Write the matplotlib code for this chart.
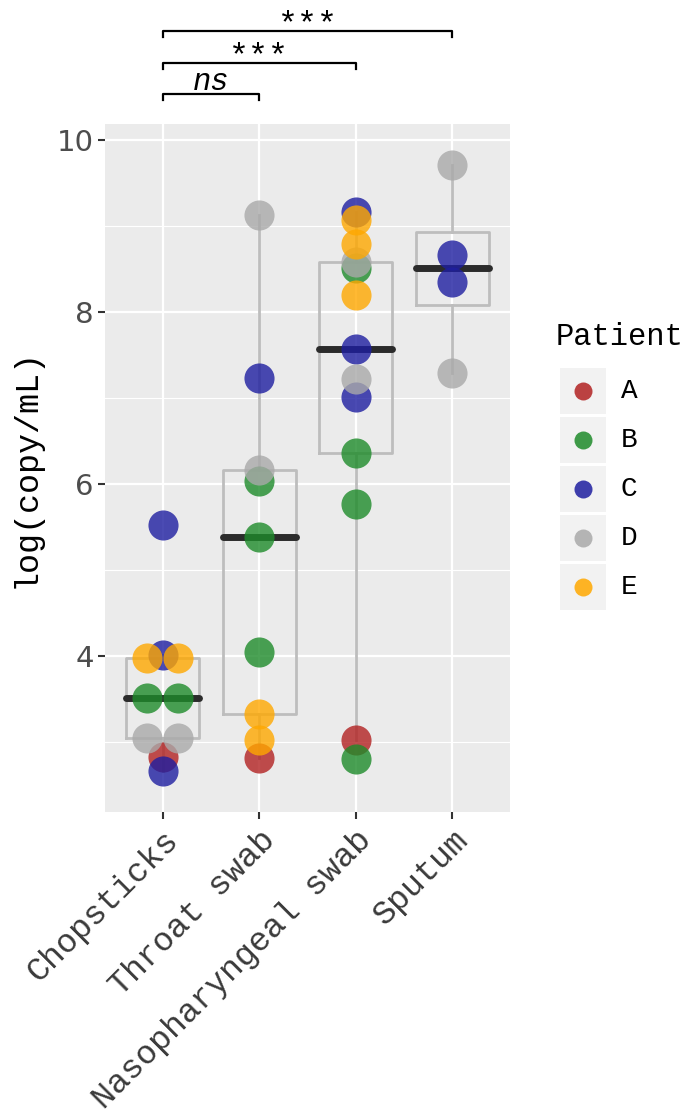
import matplotlib.pyplot as plt
from matplotlib.patches import Rectangle
import numpy as np

# sample types and measured values (log copy/mL) with patient per point
samples = ["Chopsticks", "Throat swab", "Nasopharyngeal swab", "Sputum"]

chop_vals = [5.53, 3.98, 4.01, 3.98, 3.51, 3.51, 3.05, 3.05, 2.83, 2.67]
chop_pat = ["C", "E", "C", "E", "B", "B", "D", "D", "A", "C"]

throat_vals = [9.13, 7.24, 6.17, 6.04, 5.39, 4.05, 3.33, 3.03, 2.82]
throat_pat = ["D", "C", "D", "B", "B", "B", "E", "E", "A"]

naso_vals = [9.17, 9.07, 8.79, 8.59, 8.52, 8.20, 7.57, 7.22, 7.02, 6.36, 5.77, 3.03, 2.81]
naso_pat = ["C", "E", "E", "D", "B", "E", "C", "D", "C", "B", "B", "A", "B"]

sputum_vals = [9.71, 8.67, 8.35, 7.29]
sputum_pat = ["D", "C", "C", "D"]

patients = ["A", "B", "C", "D", "E"]
pat_colors = {"A": "#B22222", "B": "#1E8B2A", "C": "#1E1EA0", "D": "#A9A9A9", "E": "#FFA800"}

comparisons = [(1, 2, "ns"), (1, 3, "***"), (1, 4, "***")]

all_vals = [chop_vals, throat_vals, naso_vals, sputum_vals]
all_pats = [chop_pat, throat_pat, naso_pat, sputum_pat]

mono = "Liberation Mono"

fig = plt.figure(figsize=(6.89, 11.16), dpi=100)
ax = fig.add_axes([105 / 689, 1 - 812 / 1116, 405 / 689, 688 / 1116])
ax.set_facecolor("#EBEBEB")
for s in ax.spines.values():
    s.set_visible(False)

# boxplots (outliers hidden, points drawn on top)
ax.boxplot(all_vals, positions=[1, 2, 3, 4], widths=0.76, showfliers=False,
           showcaps=False, patch_artist=False,
           boxprops=dict(color="#BDBDBD", linewidth=2),
           whiskerprops=dict(color="#BDBDBD", linewidth=2),
           medianprops=dict(color="#2B2B2B", linewidth=5, solid_capstyle="round"),
           zorder=2)

# points, tied values spread sideways
spacing = 0.32
for i, (vals, pats) in enumerate(zip(all_vals, all_pats)):
    vals = np.array(vals)
    xs = np.zeros(len(vals))
    for v in np.unique(vals):
        idx = np.where(vals == v)[0]
        k = len(idx)
        xs[idx] = (np.arange(k) - (k - 1) / 2) * spacing
    for p in patients:
        sel = [j for j, pp in enumerate(pats) if pp == p]
        if sel:
            ax.scatter(i + 1 + xs[sel], vals[sel], s=470, color=pat_colors[p],
                       alpha=0.8, linewidths=0, zorder=3)

ax.set_xlim(0.4, 4.6)
ax.set_ylim(2.19, 10.19)
ax.set_yticks([4, 6, 8, 10])
ax.set_yticks([3, 5, 7, 9], minor=True)
ax.set_xticks([1, 2, 3, 4])
ax.set_xticklabels(samples, rotation=45, ha="right", va="top",
                   rotation_mode="anchor", fontsize=24, family=mono, color="#3A3A3A")
ax.tick_params(axis="y", which="major", labelsize=21, labelcolor="#4D4D4D",
               length=5, width=1.5, color="#333333", pad=3)
ax.tick_params(axis="y", which="minor", length=0)
ax.tick_params(axis="x", length=5, width=1.5, color="#333333", pad=4)
ax.grid(which="major", color="white", linewidth=1.6, zorder=0)
ax.grid(which="minor", axis="y", color="white", linewidth=0.8, zorder=0)
ax.set_axisbelow(True)
ax.set_ylabel("log(copy/mL)", fontsize=24, family=mono, color="black", labelpad=11)

# significance brackets above the panel
base, step, tip = 10.535, 0.37, 0.07
for n, (a, b, lab) in enumerate(comparisons):
    y = base + n * step
    ax.plot([a, a, b, b], [y - tip, y, y, y - tip], color="black", lw=1.6,
            clip_on=False, zorder=4)
    if lab == "ns":
        ax.text((a + b) / 2, y + 0.05, lab, ha="center", va="baseline", fontsize=22,
                family=mono, style="italic", clip_on=False)
    else:
        ax.text((a + b) / 2, y - 0.03, lab, ha="center", va="baseline", fontsize=24,
                family=mono, clip_on=False)

# legend drawn in figure pixel space
lax = fig.add_axes([0, 0, 1, 1])
lax.set_xlim(0, 689)
lax.set_ylim(1116, 0)
lax.axis("off")
lax.text(556, 337, "Patient", fontsize=22, family=mono, va="center", ha="left")
for i, p in enumerate(patients):
    cy = 391 + 49 * i
    lax.add_patch(Rectangle((560, cy - 23), 46, 46, facecolor="#F2F2F2", edgecolor="none"))
    lax.scatter([583], [cy], s=168, color=pat_colors[p], alpha=0.85, linewidths=0)
    lax.text(621, cy, p, fontsize=20, family=mono, va="center", ha="left")

fig.savefig("out.png", dpi=100)
